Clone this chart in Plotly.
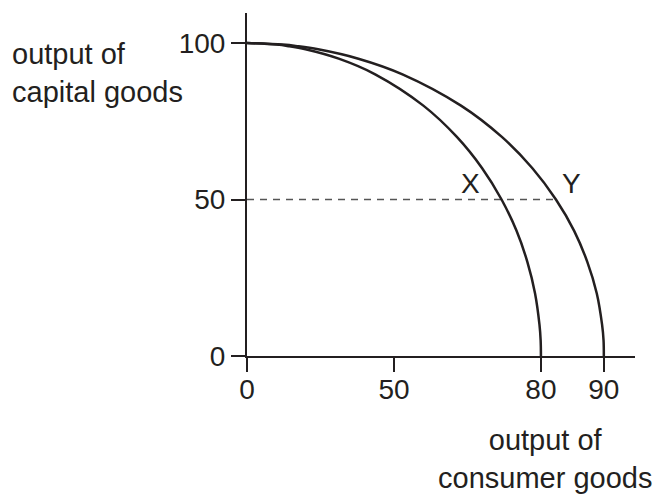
import plotly.graph_objects as go

capital = [100, 99.5, 99, 98, 95, 90, 80, 70, 60, 50, 40, 30, 20, 10, 5, 0]
consumer_x = [0, 10.0, 14.1, 19.9, 31.2, 43.6, 60.0, 71.4, 80.0, 86.6, 91.7, 95.4, 98.0, 99.5, 99.9, 100]
consumer_y = [0, 12.1, 17.1, 24.2, 37.9, 52.9, 72.8, 86.7, 97.1, 105.1, 111.3, 115.8, 119.0, 120.8, 121.3, 121.4]

# dashed guide at 50 units of capital goods
guide_x = [0, 105.1]
guide_y = [50, 50]

# the diagram is not to scale: tick positions vs. their printed labels
x_tickvals = [0, 50, 100, 121.4]
x_ticktext = ["0", "50", "80", "90"]
y_tickvals = [0, 50, 100]

ink = "#231f20"
font = "Liberation Sans, Arial, sans-serif"

fig = go.Figure()

fig.add_trace(go.Scatter(x=guide_x, y=guide_y, mode="lines",
                         line=dict(color="#555555", width=1.3, dash="7px,6px")))
fig.add_trace(go.Scatter(x=consumer_x, y=capital, mode="lines",
                         line=dict(color=ink, width=2.5, shape="spline")))
fig.add_trace(go.Scatter(x=consumer_y, y=capital, mode="lines",
                         line=dict(color=ink, width=2.5, shape="spline")))

fig.add_annotation(x=76.2, y=55, text="X", showarrow=False,
                   font=dict(size=28, color=ink, family=font))
fig.add_annotation(x=110.5, y=55, text="Y", showarrow=False,
                   font=dict(size=28, color=ink, family=font))

fig.add_annotation(xref="paper", yref="paper", x=-0.611, y=0.826,
                   xanchor="left", yanchor="middle", align="left",
                   text="output of<br>capital goods", showarrow=False,
                   font=dict(size=29, color=ink, family=font))
fig.add_annotation(xref="paper", yref="paper", x=0.768, y=-0.300,
                   xanchor="center", yanchor="middle", align="center",
                   text="output of<br>consumer goods", showarrow=False,
                   font=dict(size=29, color=ink, family=font))

axis_style = dict(showgrid=False, zeroline=False, showline=True, linewidth=2,
                  linecolor=ink, ticks="outside", ticklen=14, tickwidth=2,
                  tickcolor=ink, tickfont=dict(size=28, color=ink, family=font),
                  fixedrange=True)

fig.update_xaxes(range=[0, 132], tickvals=x_tickvals, ticktext=x_ticktext,
                 ticklabelstandoff=-7, **axis_style)
fig.update_yaxes(range=[0, 109.6], tickvals=y_tickvals, **axis_style)

fig.update_layout(
    width=656, height=494,
    margin=dict(l=247, r=21, t=13, b=138),
    paper_bgcolor="white", plot_bgcolor="white",
    showlegend=False,
    font=dict(family=font, size=28, color=ink),
)

fig.write_html("out.html", config={"displayModeBar": False},
               post_script="document.body.style.margin='0';")
